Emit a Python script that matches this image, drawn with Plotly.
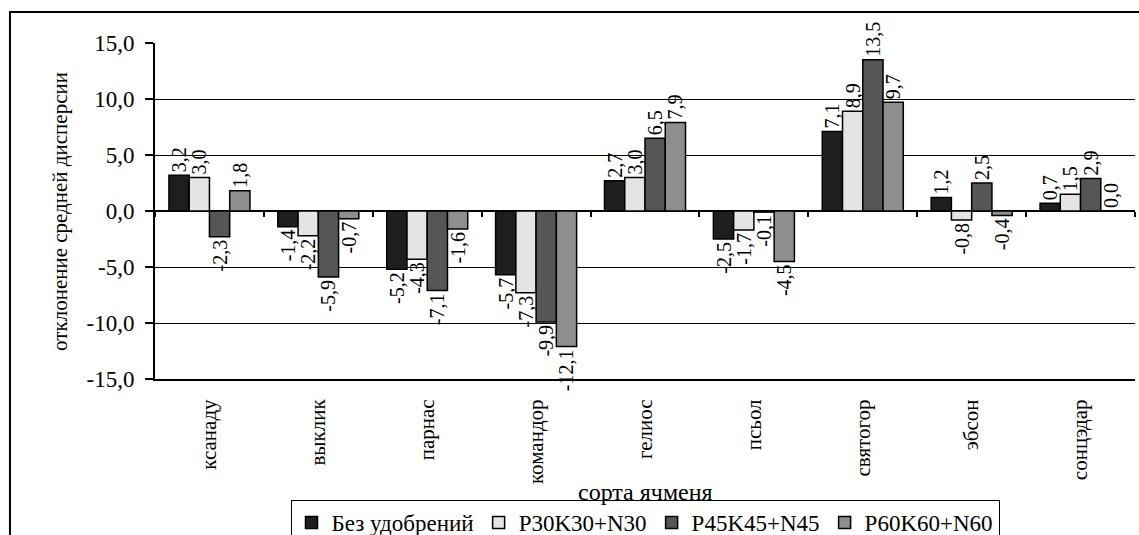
import plotly.graph_objects as go

# Barley varieties (x categories)
varieties = ["ксанаду", "выклик", "парнас", "командор", "гелиос",
             "псьол", "святогор", "эбсон", "сонцэдар"]

# Deviation of the mean dispersion for each fertiliser treatment
no_fert = [3.2, -1.4, -5.2, -5.7, 2.7, -2.5, 7.1, 1.2, 0.7]
p30k30_n30 = [3.0, -2.2, -4.3, -7.3, 3.0, -1.7, 8.9, -0.8, 1.5]
p45k45_n45 = [-2.3, -5.9, -7.1, -9.9, 6.5, -0.1, 13.5, 2.5, 2.9]
p60k60_n60 = [1.8, -0.7, -1.6, -12.1, 7.9, -4.5, 9.7, -0.4, 0.0]

series_names = ["Без удобрений", "P30K30+N30", "P45K45+N45", "P60K60+N60"]
series_colors = ["#1e1e1e", "#e4e4e4", "#565656", "#8e8e8e"]

y_ticks = [-15, -10, -5, 0, 5, 10, 15]

FONT = "Liberation Serif"


def comma(v):
    return f"{v:.1f}".replace(".", ",")


def serif(size):
    return dict(family=FONT, size=size, color="black")


fig = go.Figure()

for name, vals, col in zip(series_names,
                           [no_fert, p30k30_n30, p45k45_n45, p60k60_n60],
                           series_colors):
    fig.add_trace(go.Bar(
        x=varieties, y=vals, name=name,
        marker=dict(color=col, line=dict(color="#000000", width=1.5)),
        text=[comma(v) for v in vals],
        textposition="outside",
        textangle=-90,
        constraintext="none",
        cliponaxis=False,
        textfont=serif(20),
    ))

# helper trace carrying the category tick marks along the zero line
fig.add_trace(go.Scatter(
    x=varieties, y=[0] * len(varieties), xaxis="x2",
    mode="markers", marker=dict(opacity=0), showlegend=False, hoverinfo="skip",
))

fig.update_layout(
    template="none",
    width=1139, height=535,
    margin=dict(l=155, r=4, t=43, b=156, autoexpand=False),
    paper_bgcolor="#ffffff", plot_bgcolor="#ffffff",
    font=serif(20),
    barmode="group", bargap=0.256, bargroupgap=0.0,
    showlegend=True,
    legend=dict(
        orientation="h", x=0.5, xanchor="center", y=-0.36, yanchor="top",
        bgcolor="#ffffff", bordercolor="#000000", borderwidth=1,
        font=serif(23),
        itemwidth=30, tracegroupgap=0,
    ),
    xaxis=dict(
        type="category", showgrid=False, ticks="",
        tickangle=-90, ticklabelstandoff=10,
        tickfont=serif(21),
        showline=True, linecolor="#000000", linewidth=2,
    ),
    xaxis2=dict(
        type="category", overlaying="x", matches="x", anchor="free",
        position=0.5, side="bottom", showgrid=False, showline=False,
        ticks="outside", ticklen=5, tickwidth=2, tickcolor="#000000",
        tickson="boundaries", showticklabels=False,
    ),
    yaxis=dict(
        range=[-15, 15], tickvals=y_ticks,
        ticktext=[comma(v) for v in y_ticks],
        showgrid=True, gridcolor="#000000", gridwidth=1.2,
        zeroline=True, zerolinecolor="#000000", zerolinewidth=1.5,
        showline=True, linecolor="#000000", linewidth=2,
        ticks="outside", ticklen=8, tickwidth=1.5, tickcolor="#000000",
        ticklabelstandoff=6,
        tickfont=serif(23),
    ),
    shapes=[
        dict(type="rect", xref="paper", yref="paper",
             x0=-0.148, x1=1.02, y0=-0.5, y1=1.092,
             line=dict(color="#000000", width=2), fillcolor="rgba(0,0,0,0)",
             layer="below"),
    ],
    annotations=[
        dict(text="отклонение средней дисперсии", xref="paper", yref="paper",
             x=-0.097, y=0.5, textangle=-90, showarrow=False,
             xanchor="center", yanchor="middle", font=serif(21)),
        dict(text="сорта ячменя", xref="paper", yref="paper",
             x=0.5, y=-0.335, showarrow=False,
             xanchor="center", yanchor="middle", font=serif(24)),
    ],
)

# make sure every SVG text node uses the serif face after drawing
serif_script = """
var gd = document.getElementById('{plot_id}');
gd.querySelectorAll('text').forEach(function (t) {
    t.style.fontFamily = "'Liberation Serif', 'Times New Roman', serif";
});
"""

fig.write_html("out.html", post_script=serif_script)
